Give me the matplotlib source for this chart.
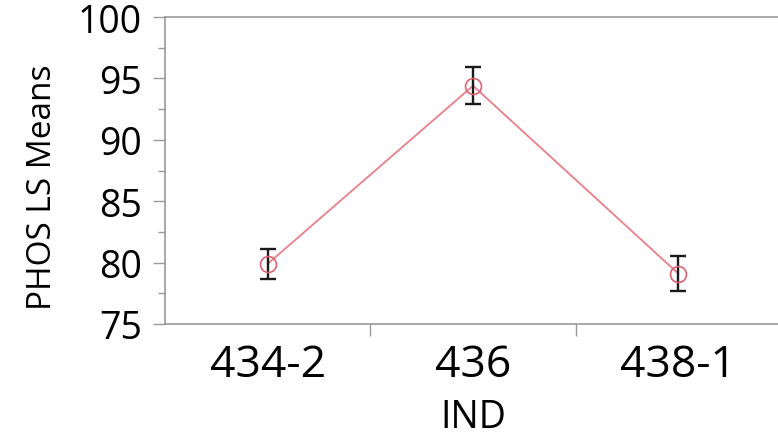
import matplotlib
matplotlib.use("Agg")
import matplotlib.pyplot as plt
from matplotlib.ticker import MultipleLocator, FixedLocator

categories = ["434-2", "436", "438-1"]
means = [79.9, 94.4, 79.1]
errors = [1.2, 1.5, 1.4]
yticks = [75, 80, 85, 90, 95, 100]

plt.rcParams['font.family'] = ['Open Sans', 'DejaVu Sans']

fig = plt.figure(figsize=(7.78, 4.39), dpi=100)
ax = fig.add_axes([165/778, 1 - 325/439, (781-165)/778, (325-18)/439])

x = list(range(len(categories)))
ax.plot(x, means, color='#ea7f8a', lw=1.3, zorder=2)
ax.errorbar(x, means, yerr=errors, fmt='none', ecolor='#1a1a1a', elinewidth=1.7,
            capsize=5.5, capthick=1.7, zorder=3)
ax.plot(x, means, 'o', mfc='none', mec='#e06070', ms=11.5, mew=1.2, zorder=4)

ax.set_xlim(-0.5, 2.5)
ax.set_ylim(75, 100)
ax.set_yticks(yticks)
ax.yaxis.set_minor_locator(MultipleLocator(2.5))
ax.set_xticks(x)
ax.set_xticklabels(categories)
ax.xaxis.set_minor_locator(FixedLocator([0.5, 1.5]))
ax.tick_params(axis='x', which='major', length=0, labelsize=32, pad=13)
ax.tick_params(axis='x', which='minor', length=8.5, color='#999999', width=1)
ax.tick_params(axis='y', which='major', length=8.5, color='#999999', width=1, labelsize=27, pad=8)
ax.tick_params(axis='y', which='minor', length=5, color='#999999', width=1)
for s in ax.spines.values():
    s.set_color('#999999')
    s.set_linewidth(1.2)

ax.set_ylabel("PHOS LS Means", fontsize=24)
ax.yaxis.set_label_coords(-0.172, 0.45)
ax.set_xlabel("IND", fontsize=27, labelpad=8)

fig.savefig("out.png", dpi=100)
